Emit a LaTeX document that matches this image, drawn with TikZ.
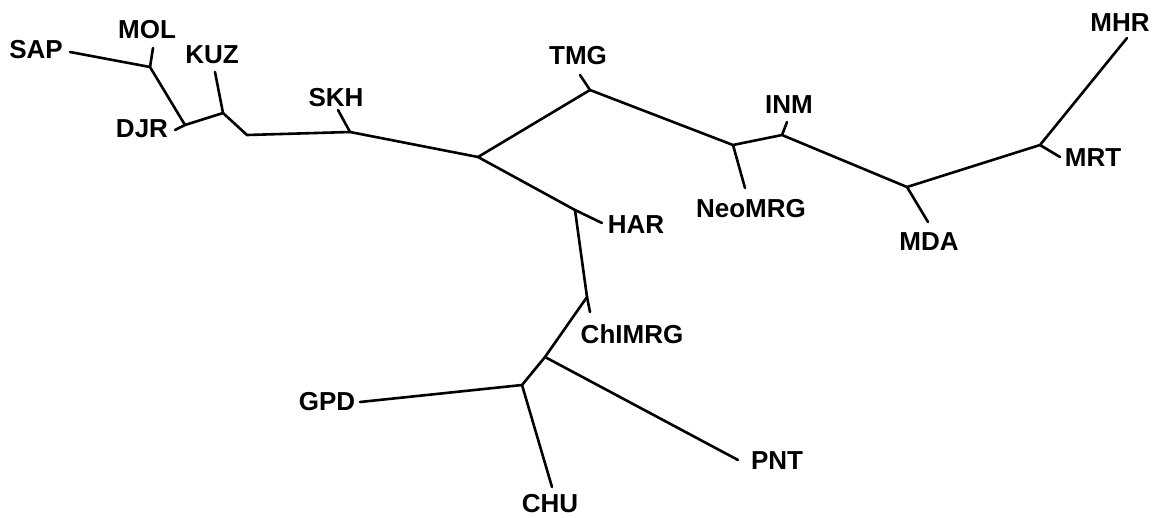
\documentclass[tikz,border=0pt]{standalone}
\usepackage{fontspec}
\setmainfont{Liberation Sans}
\begin{document}
\begin{tikzpicture}[x=1pt,y=-1pt,
  lbl/.style={inner sep=0pt,font=\fontsize{26}{27}\selectfont\bfseries},
  br/.style={line width=2.6pt,line cap=round,line join=round}]
\useasboundingbox (0,0) rectangle (1155,517);
% labels
\node[lbl] (SAP) at (36,50) {SAP};
\node[lbl] (MOL) at (147,30) {MOL};
\node[lbl] (DJR) at (142,129) {DJR};
\node[lbl] (KUZ) at (212,55) {KUZ};
\node[lbl] (SKH) at (336,98) {SKH};
\node[lbl] (TMG) at (578,56) {TMG};
\node[lbl] (NEO) at (751,209) {NeoMRG};
\node[lbl] (INM) at (789,105) {INM};
\node[lbl] (MDA) at (929,242) {MDA};
\node[lbl] (MRT) at (1093,158) {MRT};
\node[lbl] (MHR) at (1120,23) {MHR};
\node[lbl] (HAR) at (636,225) {HAR};
\node[lbl] (CHI) at (632,334) {ChIMRG};
\node[lbl] (PNT) at (777,461) {PNT};
\node[lbl] (GPD) at (327,402) {GPD};
\node[lbl] (CHU) at (550,504) {CHU};
% leaf ends
\coordinate (lSAP) at (70,52);
\coordinate (lMOL) at (153,48);
\coordinate (lDJR) at (175,130);
\coordinate (lKUZ) at (215,72);
\coordinate (lSKH) at (338,110);
\coordinate (lTMG) at (580,75);
\coordinate (lNEO) at (745,188);
\coordinate (lINM) at (787,122);
\coordinate (lMDA) at (928,222);
\coordinate (lMRT) at (1060,157);
\coordinate (lMHR) at (1127,38);
\coordinate (lHAR) at (602,223);
\coordinate (lCHI) at (590,312);
\coordinate (lPNT) at (738,460);
\coordinate (lGPD) at (360,402);
\coordinate (lCHU) at (552,487);
% internal junctions
\coordinate (jMOL) at (150,67);
\coordinate (jDJR) at (185,125);
\coordinate (jKUZ) at (223,113);
\coordinate (bend) at (247,135);
\coordinate (jSKH) at (350,132);
\coordinate (jC) at (478,157);
\coordinate (jTMG) at (590,90);
\coordinate (jNEO) at (733,145);
\coordinate (jINM) at (782,135);
\coordinate (jMDA) at (907,187);
\coordinate (jMRT) at (1040,145);
\coordinate (jHAR) at (575,210);
\coordinate (jCHI) at (587,297);
\coordinate (jPNT) at (545,357);
\coordinate (jGPD) at (522,385);
% branches
\draw[br] (lSAP) -- (jMOL) -- (jDJR) -- (jKUZ) -- (bend) -- (jSKH) -- (jC) -- (jTMG) -- (jNEO) -- (jINM) -- (jMDA) -- (jMRT) -- (lMHR);
\draw[br] (jMOL) -- (lMOL);
\draw[br] (jDJR) -- (lDJR);
\draw[br] (jKUZ) -- (lKUZ);
\draw[br] (jSKH) -- (lSKH);
\draw[br] (jTMG) -- (lTMG);
\draw[br] (jNEO) -- (lNEO);
\draw[br] (jINM) -- (lINM);
\draw[br] (jMDA) -- (lMDA);
\draw[br] (jMRT) -- (lMRT);
\draw[br] (jC) -- (jHAR) -- (jCHI) -- (jPNT) -- (jGPD) -- (lGPD);
\draw[br] (jHAR) -- (lHAR);
\draw[br] (jCHI) -- (lCHI);
\draw[br] (jPNT) -- (lPNT);
\draw[br] (jGPD) -- (lCHU);
\end{tikzpicture}
\end{document}
